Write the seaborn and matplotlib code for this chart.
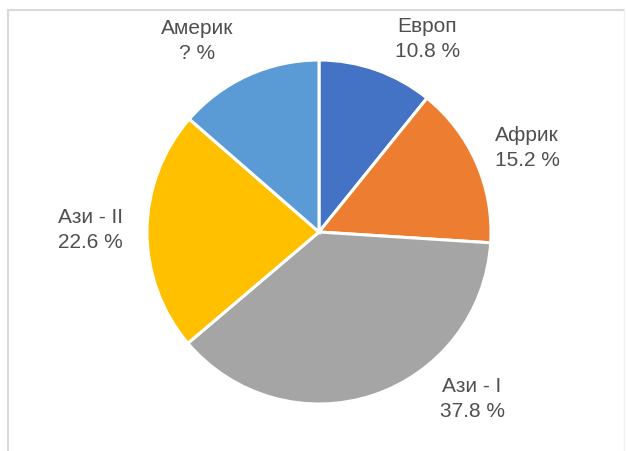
import matplotlib
matplotlib.use("Agg")
import matplotlib.pyplot as plt
from matplotlib.lines import Line2D
import seaborn as sns

# ---- data ----
regions = ["Европ", "Африк", "Ази - I", "Ази - II", "Америк"]
shares = [10.8, 15.2, 37.8, 22.6, 13.6]
share_labels = ["10.8 %", "15.2 %", "37.8 %", "22.6 %", "? %"]

# ---- style ----
colors = sns.color_palette(["#4472C4", "#ED7D31", "#A5A5A5", "#FFC000", "#5B9BD5"])
sns.set_theme(style="white")
plt.rcParams["font.family"] = ["Liberation Sans", "DejaVu Sans"]
text_color = "#4f4f4f"

# label block centres in pie-radius units (layout only)
label_xy = [(0.63, 1.12), (1.21, 0.49), (0.89, -0.97), (-1.33, 0.01), (-0.71, 1.11)]

W, H, DPI = 626, 451, 100
fig = plt.figure(figsize=(W / DPI, H / DPI), dpi=DPI)
fig.patch.set_facecolor("white")

cx, cy, r = 319, 232, 172
ax = fig.add_axes([(cx - r) / W, (H - cy - r) / H, 2 * r / W, 2 * r / H])
ax.pie(shares, colors=colors, startangle=90, counterclock=False,
       wedgeprops=dict(edgecolor="white", linewidth=2.2), radius=1.0)
ax.set_xlim(-1, 1)
ax.set_ylim(-1, 1)
ax.set_aspect("auto")
ax.axis("off")

for name, lab, (x, y) in zip(regions, share_labels, label_xy):
    ax.text(x, y, f"{name}\n{lab}", ha="center", va="center", fontsize=15,
            color=text_color, linespacing=1.4, clip_on=False)

# light frame (top, left, right)
fc = "#d9d9d9"
fig.add_artist(Line2D([8 / W, 624 / W], [1 - 10 / H, 1 - 10 / H], color=fc, lw=1.5))
fig.add_artist(Line2D([8 / W, 8 / W], [0, 1 - 10 / H], color=fc, lw=1.5))
fig.add_artist(Line2D([624 / W, 624 / W], [0, 1 - 10 / H], color="#f0f0f0", lw=1))

fig.savefig("out.png", dpi=DPI, facecolor="white")
